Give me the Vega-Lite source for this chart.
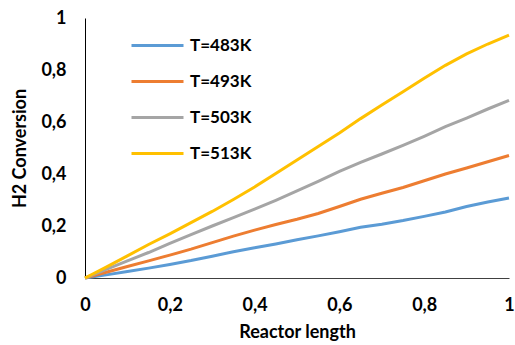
{
  "$schema": "https://vega.github.io/schema/vega-lite/v6.json",
  "autosize": "none",
  "width": 424,
  "height": 260,
  "padding": {"left": 85, "top": 18, "right": 6, "bottom": 67},
  "background": "white",
  "config": {
    "view": {"stroke": null},
    "font": "Lato"
  },
  "data": {
    "values": [
      {"x": 0, "T": "T=483K", "y": 0}, {"x": 0.05, "T": "T=483K", "y": 0.012}, {"x": 0.1, "T": "T=483K", "y": 0.025}, {"x": 0.15, "T": "T=483K", "y": 0.038}, {"x": 0.2, "T": "T=483K", "y": 0.052}, {"x": 0.25, "T": "T=483K", "y": 0.067}, {"x": 0.3, "T": "T=483K", "y": 0.084}, {"x": 0.35, "T": "T=483K", "y": 0.101}, {"x": 0.4, "T": "T=483K", "y": 0.116}, {"x": 0.45, "T": "T=483K", "y": 0.131}, {"x": 0.5, "T": "T=483K", "y": 0.147}, {"x": 0.55, "T": "T=483K", "y": 0.162}, {"x": 0.6, "T": "T=483K", "y": 0.178}, {"x": 0.65, "T": "T=483K", "y": 0.195}, {"x": 0.7, "T": "T=483K", "y": 0.207}, {"x": 0.75, "T": "T=483K", "y": 0.221}, {"x": 0.8, "T": "T=483K", "y": 0.237}, {"x": 0.85, "T": "T=483K", "y": 0.254}, {"x": 0.9, "T": "T=483K", "y": 0.275}, {"x": 0.95, "T": "T=483K", "y": 0.292}, {"x": 1, "T": "T=483K", "y": 0.308},
      {"x": 0, "T": "T=493K", "y": 0}, {"x": 0.05, "T": "T=493K", "y": 0.022}, {"x": 0.1, "T": "T=493K", "y": 0.044}, {"x": 0.15, "T": "T=493K", "y": 0.066}, {"x": 0.2, "T": "T=493K", "y": 0.088}, {"x": 0.25, "T": "T=493K", "y": 0.111}, {"x": 0.3, "T": "T=493K", "y": 0.136}, {"x": 0.35, "T": "T=493K", "y": 0.161}, {"x": 0.4, "T": "T=493K", "y": 0.184}, {"x": 0.45, "T": "T=493K", "y": 0.206}, {"x": 0.5, "T": "T=493K", "y": 0.226}, {"x": 0.55, "T": "T=493K", "y": 0.248}, {"x": 0.6, "T": "T=493K", "y": 0.275}, {"x": 0.65, "T": "T=493K", "y": 0.303}, {"x": 0.7, "T": "T=493K", "y": 0.326}, {"x": 0.75, "T": "T=493K", "y": 0.348}, {"x": 0.8, "T": "T=493K", "y": 0.374}, {"x": 0.85, "T": "T=493K", "y": 0.4}, {"x": 0.9, "T": "T=493K", "y": 0.423}, {"x": 0.95, "T": "T=493K", "y": 0.447}, {"x": 1, "T": "T=493K", "y": 0.471},
      {"x": 0, "T": "T=503K", "y": 0}, {"x": 0.05, "T": "T=503K", "y": 0.033}, {"x": 0.1, "T": "T=503K", "y": 0.066}, {"x": 0.15, "T": "T=503K", "y": 0.098}, {"x": 0.2, "T": "T=503K", "y": 0.133}, {"x": 0.25, "T": "T=503K", "y": 0.167}, {"x": 0.3, "T": "T=503K", "y": 0.2}, {"x": 0.35, "T": "T=503K", "y": 0.232}, {"x": 0.4, "T": "T=503K", "y": 0.265}, {"x": 0.45, "T": "T=503K", "y": 0.299}, {"x": 0.5, "T": "T=503K", "y": 0.335}, {"x": 0.55, "T": "T=503K", "y": 0.372}, {"x": 0.6, "T": "T=503K", "y": 0.41}, {"x": 0.65, "T": "T=503K", "y": 0.445}, {"x": 0.7, "T": "T=503K", "y": 0.477}, {"x": 0.75, "T": "T=503K", "y": 0.51}, {"x": 0.8, "T": "T=503K", "y": 0.545}, {"x": 0.85, "T": "T=503K", "y": 0.582}, {"x": 0.9, "T": "T=503K", "y": 0.615}, {"x": 0.95, "T": "T=503K", "y": 0.65}, {"x": 1, "T": "T=503K", "y": 0.683},
      {"x": 0, "T": "T=513K", "y": 0}, {"x": 0.05, "T": "T=513K", "y": 0.042}, {"x": 0.1, "T": "T=513K", "y": 0.085}, {"x": 0.15, "T": "T=513K", "y": 0.129}, {"x": 0.2, "T": "T=513K", "y": 0.17}, {"x": 0.25, "T": "T=513K", "y": 0.213}, {"x": 0.3, "T": "T=513K", "y": 0.256}, {"x": 0.35, "T": "T=513K", "y": 0.302}, {"x": 0.4, "T": "T=513K", "y": 0.35}, {"x": 0.45, "T": "T=513K", "y": 0.402}, {"x": 0.5, "T": "T=513K", "y": 0.454}, {"x": 0.55, "T": "T=513K", "y": 0.506}, {"x": 0.6, "T": "T=513K", "y": 0.558}, {"x": 0.65, "T": "T=513K", "y": 0.613}, {"x": 0.7, "T": "T=513K", "y": 0.665}, {"x": 0.75, "T": "T=513K", "y": 0.716}, {"x": 0.8, "T": "T=513K", "y": 0.768}, {"x": 0.85, "T": "T=513K", "y": 0.818}, {"x": 0.9, "T": "T=513K", "y": 0.862}, {"x": 0.95, "T": "T=513K", "y": 0.9}, {"x": 1, "T": "T=513K", "y": 0.934}
    ]
  },
  "mark": {"type": "line", "strokeWidth": 3, "interpolate": "linear"},
  "encoding": {
    "x": {
      "field": "x", "type": "quantitative", "title": "Reactor length",
      "scale": {"domain": [0, 1], "nice": false, "zero": true},
      "axis": {
        "values": [0, 0.2, 0.4, 0.6, 0.8, 1],
        "labelExpr": "replace(format(datum.value, '.1~f'), '.', ',')",
        "grid": false, "ticks": false, "tickSize": 0,
        "domainColor": "#404040", "domainWidth": 1,
        "labelFont": "Lato", "labelFontSize": 18, "labelFontWeight": "bold", "labelColor": "#000",
        "labelPadding": 18, "labelFlush": false,
        "titleFont": "Lato", "titleFontSize": 18, "titleFontWeight": "bold", "titleColor": "#000",
        "titlePadding": 9
      }
    },
    "y": {
      "field": "y", "type": "quantitative", "title": "H2 Conversion",
      "scale": {"domain": [0, 1], "nice": false},
      "axis": {
        "values": [0, 0.2, 0.4, 0.6, 0.8, 1],
        "labelExpr": "replace(format(datum.value, '.1~f'), '.', ',')",
        "grid": false, "ticks": false, "tickSize": 0,
        "domainColor": "#000", "domainWidth": 1,
        "labelFont": "Lato", "labelFontSize": 18, "labelFontWeight": "bold", "labelColor": "#000",
        "labelPadding": 19, "labelFlush": false,
        "titleFont": "Lato", "titleFontSize": 18, "titleFontWeight": "bold", "titleColor": "#000",
        "titlePadding": 11
      }
    },
    "color": {
      "field": "T", "type": "nominal",
      "scale": {"domain": ["T=483K", "T=493K", "T=503K", "T=513K"], "range": ["#5B9BD5", "#ED7D31", "#A5A5A5", "#FFC000"]},
      "legend": {
        "title": null, "orient": "none", "legendX": 45, "legendY": 0,
        "symbolType": "stroke", "symbolSize": 2704, "symbolStrokeWidth": 3,
        "labelFont": "Lato", "labelFontSize": 17, "labelFontWeight": "bold", "labelColor": "#000",
        "labelOffset": 5, "rowPadding": -4
      }
    }
  }
}
